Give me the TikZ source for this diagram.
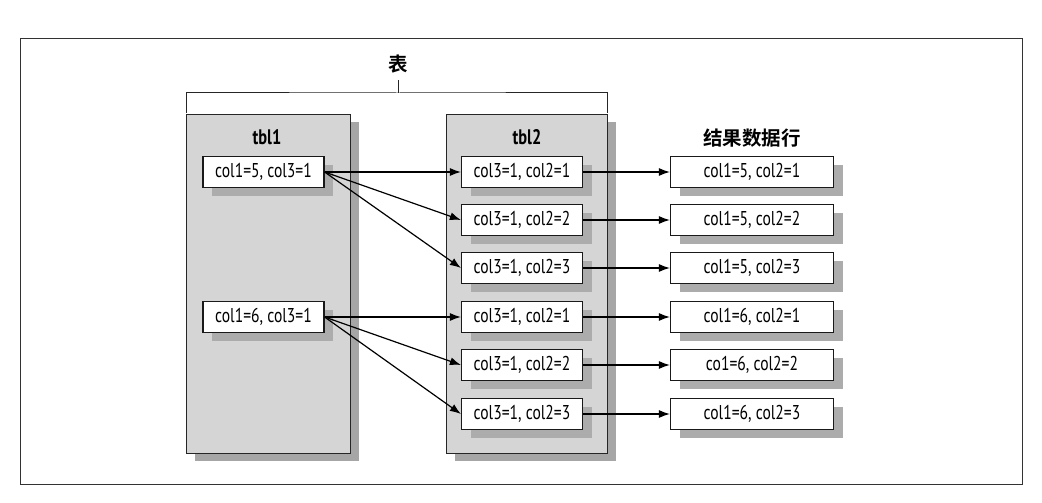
\documentclass[tikz,border=0pt]{standalone}
\usepackage{fontspec}
\setmainfont{PT Sans}[FakeStretch=0.78]
\newfontfamily\cjk{Noto Sans CJK SC}[BoldFont={* Bold}]
\usetikzlibrary{arrows.meta,shadows}
\begin{document}
\begin{tikzpicture}[x=1pt,y=-1pt,
  tblbox/.style={draw=black!85, line width=1.2pt, fill=gray!33, minimum width=164pt, minimum height=339pt, anchor=north west, inner sep=0pt,
    drop shadow={shadow xshift=8pt, shadow yshift=-7pt, fill=gray!70, opacity=1}},
  rowbox/.style={draw=black!90, line width=1.2pt, fill=white, minimum width=121pt, minimum height=31pt, inner sep=0pt,
    font=\fontsize{20}{22}\selectfont,
    drop shadow={shadow xshift=9pt, shadow yshift=-8pt, fill=gray!65, opacity=1}},
  resbox/.style={rowbox, minimum width=163pt},
  title/.style={font=\bfseries\fontsize{21}{24}\selectfont, inner sep=0pt},
  cjktitle/.style={font=\cjk\bfseries\fontsize{19.5}{22}\selectfont, inner sep=0pt},
  link/.style={-{Latex[length=11pt,width=8pt]}, line width=1.2pt},
  brk/.style={line width=1pt, black!85}
]
\useasboundingbox[fill=white] (0,0) rectangle (1042,503);
\node[draw=black!80, line width=1.3pt, minimum width=1002pt, minimum height=446pt, anchor=north west, inner sep=0pt] (frame) at (20,38) {};

% bracket
\coordinate (bl) at (186,113);
\coordinate (br) at (607,113);
\coordinate (bm) at (398,93);
\node[cjktitle] (biao) at (398,64) {表};
\draw[brk] (bl) |- (bm) -| (br);
\draw[brk] (bm) -- (biao.south |- 0,80);

% tables
\node[tblbox] (t1) at (186,114) {};
\node[tblbox, minimum width=161pt] (t2) at (446,114) {};
\node[title] (t1l) at (267,137) {tbl1};
\node[title] (t2l) at (527,137) {tbl2};
\node[cjktitle] (resl) at (752,138) {结果数据行};

% left rows
\node[rowbox] (a1) at (263.5,172) {col1=5, col3=1};
\node[rowbox] (a2) at (263.5,317) {col1=6, col3=1};

% tbl2 rows
\node[rowbox] (b1) at (522,172) {col3=1, col2=1};
\node[rowbox] (b2) at (522,220) {col3=1, col2=2};
\node[rowbox] (b3) at (522,268) {col3=1, col2=3};
\node[rowbox] (b4) at (522,317) {col3=1, col2=1};
\node[rowbox] (b5) at (522,365) {col3=1, col2=2};
\node[rowbox] (b6) at (522,414) {col3=1, col2=3};

% result rows
\node[resbox] (c1) at (752,172) {col1=5, col2=1};
\node[resbox] (c2) at (752,220) {col1=5, col2=2};
\node[resbox] (c3) at (752,268) {col1=5, col2=3};
\node[resbox] (c4) at (752,317) {col1=6, col2=1};
\node[resbox] (c5) at (752,365) {co1=6, col2=2};
\node[resbox] (c6) at (752,414) {col1=6, col2=3};

% links
\foreach \t in {b1,b2,b3} \draw[link] (a1.east) -- (\t.west);
\foreach \t in {b4,b5,b6} \draw[link] (a2.east) -- (\t.west);
\foreach \s/\t in {b1/c1,b2/c2,b3/c3,b4/c4,b5/c5,b6/c6} \draw[link] (\s.east) -- (\t.west);
\end{tikzpicture}
\end{document}
